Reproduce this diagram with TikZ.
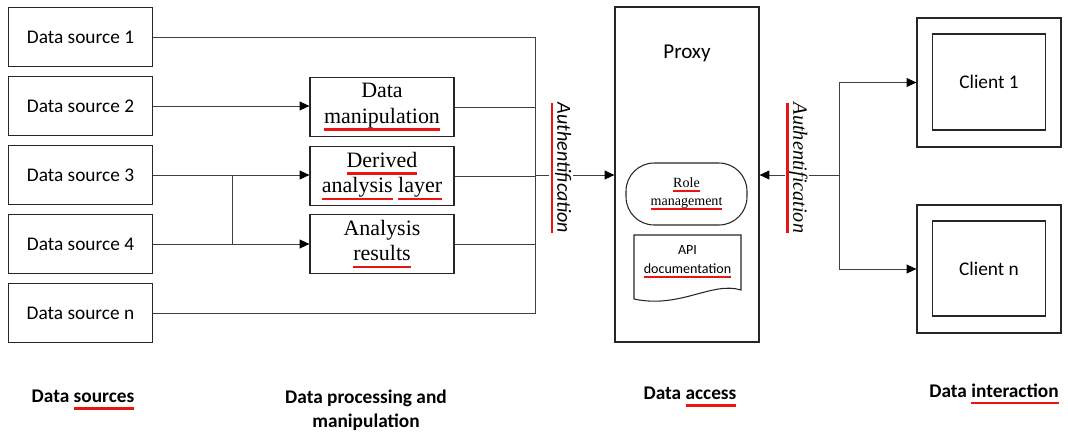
\documentclass[tikz,border=0pt]{standalone}
\usepackage{fontspec}
\setmainfont{Liberation Serif}
\setsansfont{Carlito}
\usetikzlibrary{arrows.meta,positioning,calc}
\definecolor{squig}{RGB}{235,20,20}
\newsavebox\ulbox
\newcommand\redul[1]{\sbox\ulbox{#1}\leavevmode\rlap{\begingroup\color{squig}\rule[-0.34em]{\wd\ulbox}{1.35pt}\endgroup}\usebox\ulbox}

\begin{document}
\begin{tikzpicture}[x=0.02cm,y=-0.02cm,>={Triangle[length=5.5pt,width=5pt,color=black]}]
  \tikzstyle{src}=[draw=black!85,line width=0.7pt,minimum width=2.88cm,minimum height=1.18cm,font=\sffamily\fontsize{11}{13}\selectfont]
  \tikzstyle{proc}=[draw=black!85,line width=0.7pt,minimum width=2.88cm,minimum height=1.18cm,inner sep=1pt,align=center,font=\fontsize{12.5}{14.5}\selectfont]
  \tikzstyle{outerbox}=[draw=black!85,line width=0.7pt,minimum width=2.88cm]
  \tikzstyle{innerbox}=[draw=black!85,line width=0.7pt,minimum width=2.26cm,minimum height=1.92cm,font=\sffamily\fontsize{11}{13}\selectfont]
  \tikzstyle{link}=[black!75,line width=0.5pt]
  \tikzstyle{auth}=[fill=white,rotate=-90,inner sep=1pt]
  \tikzstyle{title}=[align=center,font=\sffamily\bfseries\fontsize{11}{13.6}\selectfont]
  \useasboundingbox (0,0) rectangle (1068,433);
  % data sources
  \node[src] (s1) at (80.5,37) {Data source 1};
  \node[src] (s2) at (80.5,106) {Data source 2};
  \node[src] (s3) at (80.5,175) {Data source 3};
  \node[src] (s4) at (80.5,244) {Data source 4};
  \node[src] (sn) at (80.5,313) {Data source n};
  % processing
  \node[proc] (dm) at (382,107) {Data\\\redul{manipulation}};
  \node[proc] (dl) at (382,176) {\redul{Derived}\\\redul{analysis} \redul{layer}};
  \node[proc] (ar) at (382,244) {Analysis\\\redul{results}};
  % proxy
  \node[draw=black!85,line width=0.7pt,minimum width=2.88cm,minimum height=6.7cm] (proxy) at (687,174.5) {};
  \node[font=\sffamily\fontsize{12}{14}\selectfont] (proxyt) at (687,53) {Proxy};
  \node[draw=black!85,line width=0.6pt,rounded corners=16pt,minimum width=2.42cm,minimum height=1.24cm,align=center,font=\fontsize{8}{10}\selectfont] (role) at (686.5,194) {\redul{Role}\\\redul{management}};
  \node[align=center,font=\sffamily\fontsize{8}{10.5}\selectfont] (api) at (687.5,262) {API\\\redul{documentation}};
  \draw[black!85,line width=0.6pt] (634,235) -- (741,235) -- (741,290) .. controls (712,281) and (680,309) .. (634,299) -- cycle;
  % clients
  \node[outerbox,minimum height=2.58cm] (c1) at (989,82.5) {};
  \node[innerbox] (c1i) at (989,82) {Client 1};
  \node[outerbox,minimum height=2.56cm] (cn) at (989,269) {};
  \node[innerbox,minimum height=1.9cm] (cni) at (989,268.5) {Client n};
  % connectors
  \coordinate (bus) at (535,175);
  \coordinate (split) at (232,175);
  \coordinate (fork) at (839,175);
  \draw[link] (s1.east) -- (s1.east -| bus) |- (sn.east);
  \draw[link,->] (s2) -- (dm.west |- s2);
  \draw[link,->] (s3) -- (dl.west |- s3);
  \draw[link,->] (s4) -- (ar);
  \draw[link] (split) -- (split |- s4);
  \draw[link] (dm.east) -- (dm.east -| bus);
  \draw[link] (dl.east) -- (dl.east -| bus);
  \draw[link] (ar.east) -- (ar.east -| bus);
  \draw[link,->] (bus) -- (proxy.west |- bus);
  \draw[link,->] (fork) -- (proxy.east |- fork);
  \draw[link,->] (fork) |- (c1.west);
  \draw[link,->] (fork) |- (cn.west);
  \node[auth,font=\sffamily\itshape\fontsize{11.4}{13}\selectfont] (authl) at (561,168) {\redul{Authentification}};
  \node[auth,font=\itshape\fontsize{11.5}{13}\selectfont] (authr) at (797,168) {\redul{Authentification}};
  % layer titles
  \node[title] (tsrc) at (83,400) {Data \redul{sources}};
  \node[title] (tproc) at (366,410) {Data processing and\\manipulation};
  \node[title] (tacc) at (690,397) {Data \redul{access}};
  \node[title] (tint) at (994,394) {Data \redul{interaction}};
\end{tikzpicture}
\end{document}
